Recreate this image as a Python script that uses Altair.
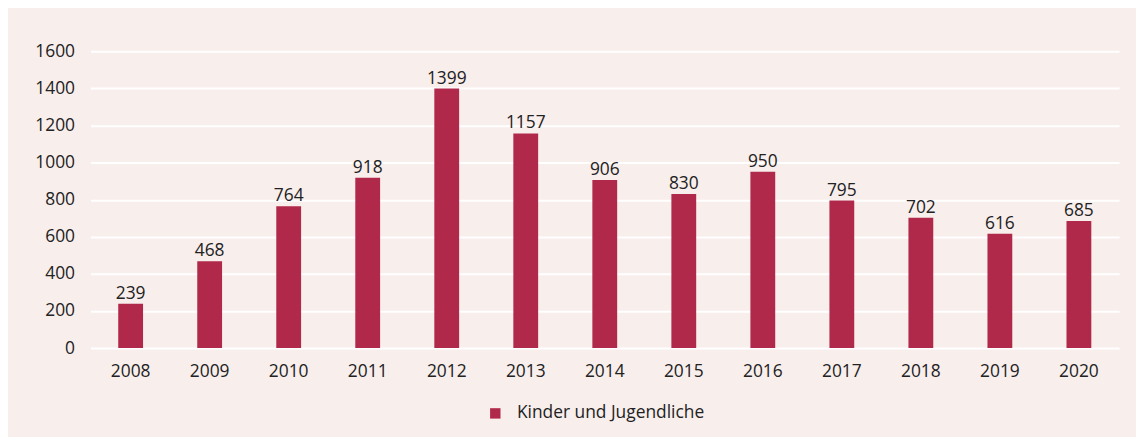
import altair as alt
import pandas as pd

years = ["2008", "2009", "2010", "2011", "2012", "2013", "2014",
         "2015", "2016", "2017", "2018", "2019", "2020"]
values = [239, 468, 764, 918, 1399, 1157, 906, 830, 950, 795, 702, 616, 685]
series_name = "Kinder und Jugendliche"
y_ticks = [0, 200, 400, 600, 800, 1000, 1200, 1400, 1600]

df = pd.DataFrame({"Jahr": years, "Wert": values, "Serie": [series_name] * len(years)})

BAR = "#b0294a"
BG = "#f8eeec"
FONT = "Open Sans"
TXT = "#222222"
FS = 17.5

x = alt.X("Jahr:N", sort=years, title=None,
          scale=alt.Scale(paddingInner=0.686, paddingOuter=0.352),
          axis=alt.Axis(labelAngle=0, ticks=False, domain=False,
                        labelFontSize=FS, labelPadding=15, labelColor=TXT,
                        labelFont=FONT, grid=False))
y = alt.Y("Wert:Q", title=None,
          scale=alt.Scale(domain=[0, 1600], nice=False),
          axis=alt.Axis(values=y_ticks, tickCount=20, ticks=False, domain=False,
                        format="d", labelOverlap=False,
                        labelFontSize=FS, labelPadding=16, labelColor=TXT,
                        labelFont=FONT, grid=True, gridColor="white", gridWidth=2))

bars = alt.Chart(df).mark_bar(color=BAR).encode(
    x=x, y=y,
    color=alt.Color("Serie:N", scale=alt.Scale(range=[BAR]),
                    legend=alt.Legend(title=None, orient="none", legendX=399, legendY=356,
                                      symbolType="square", symbolSize=110,
                                      symbolStrokeWidth=0, labelFontSize=FS, labelLimit=0,
                                      labelFont=FONT, labelColor=TXT, labelOffset=13)),
)

labels = alt.Chart(df).mark_text(baseline="bottom", dy=-1, fontSize=FS,
                                 font=FONT, color=TXT).encode(
    x=x, y=y, text="Wert:Q")

chart = (bars + labels).properties(
    width=1036, height=299,
    autosize=alt.AutoSizeParams(type="none"),
    padding={"left": 83, "top": 42, "right": 17, "bottom": 88},
    background=BG,
).configure_view(stroke=None)

chart.save("out.html", embed_options={"renderer": "svg", "actions": False})
